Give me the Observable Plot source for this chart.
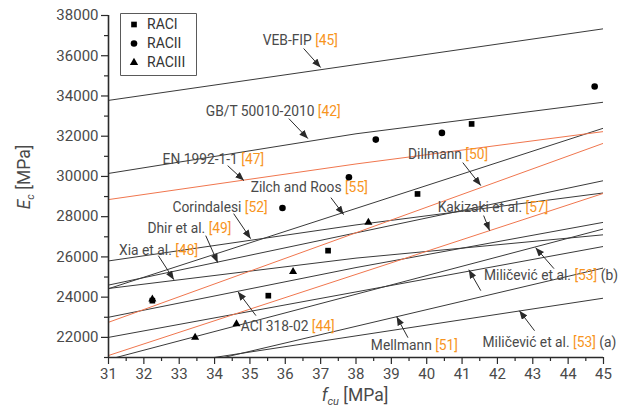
<!DOCTYPE html>
<html><head><meta charset="utf-8">
<script src="https://cdn.jsdelivr.net/npm/d3@7"></script>
<script src="https://cdn.jsdelivr.net/npm/@observablehq/plot@0.6"></script>
<style>
html,body{margin:0;padding:0;background:#fff;}
#chart{width:628px;height:411px;position:relative;}
#chart svg{font-family:Roboto,"Open Sans",sans-serif;}
</style></head><body><div id="chart"></div>
<script>
// ---- x positions (f_cu, MPa) at which model curves were read
const fcuEnds = [31, 45];
const fcuThree = [31, 38, 45];

// ---- model curves, E_c (MPa) at the x positions above
const vebFip      = [33780, 37340];
const gbt50010    = [30150, 32120, 33690];
const en1992      = [28850, 30620, 32230];
const zilchRoos   = [24420, 32400];
const dillmann    = [22750, 31650];
const corindalesi = [25800, 27590, 29180];
const dhir        = [24600, 29790];
const xia         = [24430, 25940, 27100];
const kakizaki    = [21100, 29160];
const aci318      = [23000, 25470, 27720];
const milicevicB1 = [22000, 26520];
const milicevicB2 = [20900, 27390];
const mellmann    = [19650, 25450];
const milicevicA  = [20200, 23950];

// ---- experimental points
const raciFcu   = [32.24, 35.52, 37.21, 39.74, 41.27];
const raciEc    = [23825, 24073, 26311, 29130, 32610];
const raciiFcu  = [35.92, 37.80, 38.56, 40.43, 44.75];
const raciiEc   = [28435, 29960, 31832, 32165, 34470];
const raciiiFcu = [32.24, 33.45, 34.62, 36.22, 38.35];
const raciiiEc  = [23900, 22000, 22665, 25266, 27720];

// ---- ticks
const xTicks = [31,32,33,34,35,36,37,38,39,40,41,42,43,44,45];
const yTicks = [22000,24000,26000,28000,30000,32000,34000,36000,38000];
const xMinor = [31.5,32.5,33.5,34.5,35.5,36.5,37.5,38.5,39.5,40.5,41.5,42.5,43.5,44.5];
const yMinor = [21000,23000,25000,27000,29000,31000,33000,35000,37000];

// ---- label texts
const labelTexts = ["VEB-FIP [45]","GB/T 50010-2010 [42]","EN 1992-1-1 [47]","Zilch and Roos [55]",
  "Dillmann [50]","Corindalesi [52]","Dhir et al. [49]","Xia et al. [48]","Kakizaki et al. [57]",
  "Miličević et al. [53] (b)","ACI 318-02 [44]","Mellmann [51]","Miličević et al. [53] (a)"];
const legendNames = ["RACI", "RACII", "RACIII"];

const series = [
  ["VEB-FIP", vebFip, "k"], ["GB/T", gbt50010, "k"], ["EN", en1992, "o"], ["Zilch", zilchRoos, "k"],
  ["Dillmann", dillmann, "o"], ["Corindalesi", corindalesi, "k"], ["Dhir", dhir, "k"], ["Xia", xia, "k"],
  ["Kakizaki", kakizaki, "o"], ["ACI", aci318, "k"], ["MilB1", milicevicB1, "k"], ["MilB2", milicevicB2, "k"],
  ["Mellmann", mellmann, "k"], ["MilA", milicevicA, "k"]
];
const rows = series.flatMap(([name, ec, grp]) =>
  ec.map((v, i) => ({name, grp, fcu: (ec.length === 2 ? fcuEnds : fcuThree)[i], ec: v})));

const pts = (xs, ys) => xs.map((x, i) => ({fcu: x, ec: ys[i]}));

// annotation placement (data units)
const labelPos = [[35.36,36757],[33.75,33225],[32.53,30822],[35.02,29460],[39.47,31071],[32.81,28465],
  [32.10,27390],[31.30,26311],[40.31,28465],[41.62,25068],[34.74,22546],[38.42,21586],[41.58,21720]];
const labels = labelTexts.map((t, i) => ({t, x: labelPos[i][0], y: labelPos[i][1]}));
const arrowPos = [
  [36.52,36359,37.00,35414],[36.10,32877,36.64,31882],[34.37,30538,34.83,29793],[37.29,28947,37.65,28102],
  [41.02,30689,41.53,29544],[34.54,28152,35.02,26908],[33.75,27057,34.09,25714],[32.41,26062,32.85,24868],
  [41.61,28055,41.78,27306],[41.53,24322,41.19,25366],[43.60,25416,43.08,26461],[35.17,23081,34.66,24272],
  [39.47,21984,39.15,23029],[43.05,22332,42.62,23327]];
const arrows = arrowPos.map(a => ({x1:a[0], y1:a[1], x2:a[2], y2:a[3]}));

const ORANGE_LINE = "#f0764e", REF = "#f7941d", INK = "#2a2a2a", TXT = "#4a4a4a";

const plot = Plot.plot({
  width: 628, height: 411,
  marginLeft: 108, marginRight: 25, marginTop: 15, marginBottom: 54,
  x: {domain: [31, 45]},
  y: {domain: [21000, 38000]},
  style: {fontFamily: "Roboto, 'Open Sans', sans-serif", color: TXT, background: "#fff"},
  marks: [
    Plot.line(rows.filter(d => d.grp === "k"), {x: "fcu", y: "ec", z: "name", stroke: "#3a3a3a", strokeWidth: 1, clip: true}),
    Plot.line(rows.filter(d => d.grp === "o"), {x: "fcu", y: "ec", z: "name", stroke: ORANGE_LINE, strokeWidth: 1, clip: true}),
    Plot.link(arrows, {x1: "x1", y1: "y1", x2: "x2", y2: "y2", stroke: INK, strokeWidth: 1, className: "arr"}),
    Plot.text(labels, {x: "x", y: "y", text: "t", textAnchor: "start", fontSize: 13.8, fill: TXT, className: "lbl"}),
    Plot.dot(pts(raciFcu, raciEc), {x: "fcu", y: "ec", symbol: "square", r: 3.2, fill: "#000", stroke: "none"}),
    Plot.dot(pts(raciiFcu, raciiEc), {x: "fcu", y: "ec", symbol: "circle", r: 3.3, fill: "#000", stroke: "none"}),
    Plot.dot(pts(raciiiFcu, raciiiEc), {x: "fcu", y: "ec", symbol: "triangle", r: 3.0, fill: "#000", stroke: "none"}),
    Plot.axisX(xTicks, {tickSize: 7, tickPadding: 4, fontSize: 15, stroke: INK, strokeWidth: 1.2, fill: TXT, label: null}),
    Plot.axisX(xMinor, {tickSize: 4, stroke: INK, strokeWidth: 1.2, fill: "none", label: null}),
    Plot.axisY(yTicks, {tickSize: 7, tickPadding: 3, fontSize: 15, stroke: INK, strokeWidth: 1.2, fill: TXT, label: null, tickFormat: d => String(d)}),
    Plot.axisY(yMinor, {tickSize: 4, stroke: INK, strokeWidth: 1.2, fill: "none", label: null}),
    Plot.ruleX([31], {stroke: INK, strokeWidth: 1.6}),
    Plot.ruleY([21000], {stroke: INK, strokeWidth: 1.6})
  ]
});
document.getElementById("chart").appendChild(plot);

const svg = d3.select(plot);
// filled arrowheads
const defs = svg.append("defs");
defs.append("marker").attr("id", "ah").attr("viewBox", "0 0 10 8").attr("refX", 10).attr("refY", 4)
  .attr("markerWidth", 9).attr("markerHeight", 7).attr("markerUnits", "userSpaceOnUse").attr("orient", "auto")
  .append("path").attr("d", "M0,0L10,4L0,8Z").attr("fill", INK);
svg.selectAll(".arr path, path.arr, g.arr > *").attr("marker-end", "url(#ah)");

// colour the bracketed references
svg.selectAll(".lbl text").each(function() {
  const el = d3.select(this);
  const s = this.textContent;
  el.text(null);
  s.split(/(\[\d+\])/).filter(p => p.length).forEach(p => {
    el.append("tspan").text(p).attr("fill", /^\[\d+\]$/.test(p) ? REF : null);
  });
});

// legend
const lg = svg.append("g").attr("text-anchor", "start");
lg.append("path").attr("d", "M120.5,13.5H196.5V75.5H120.5Z")
  .attr("style", "fill:#ffffff;stroke:#5a5a5a;stroke-width:1");
const legendSyms = [[d3.symbolSquare, 32], [d3.symbolCircle, 34], [d3.symbolTriangle, 30]];
legendNames.forEach((name, i) => {
  const cy = 24.5 + i * 19;
  lg.append("path").attr("d", d3.symbol(legendSyms[i][0], legendSyms[i][1])())
    .attr("transform", `translate(134,${cy})`).attr("style", "fill:#000;stroke:none");
  lg.append("text").attr("x", 147).attr("y", cy).attr("dy", "0.35em").attr("text-anchor", "start")
    .attr("font-size", 14).attr("fill", "#333").text(name);
});

// axis titles
const yt = svg.append("text").attr("transform", "translate(30,177) rotate(-90)").attr("text-anchor", "middle")
  .attr("font-size", 17.5).attr("fill", TXT);
yt.append("tspan").attr("font-style", "italic").text("E");
yt.append("tspan").attr("font-style", "italic").attr("font-size", 11).attr("dy", 4).text("c");
yt.append("tspan").attr("dy", -4).text(" [MPa]");
const xt = svg.append("text").attr("x", 355).attr("y", 401).attr("text-anchor", "middle")
  .attr("font-size", 17.5).attr("fill", TXT);
xt.append("tspan").attr("font-style", "italic").text("f");
xt.append("tspan").attr("font-style", "italic").attr("font-size", 11).attr("dy", 4).text("cu");
xt.append("tspan").attr("dy", -4).text(" [MPa]");
</script></body></html>
